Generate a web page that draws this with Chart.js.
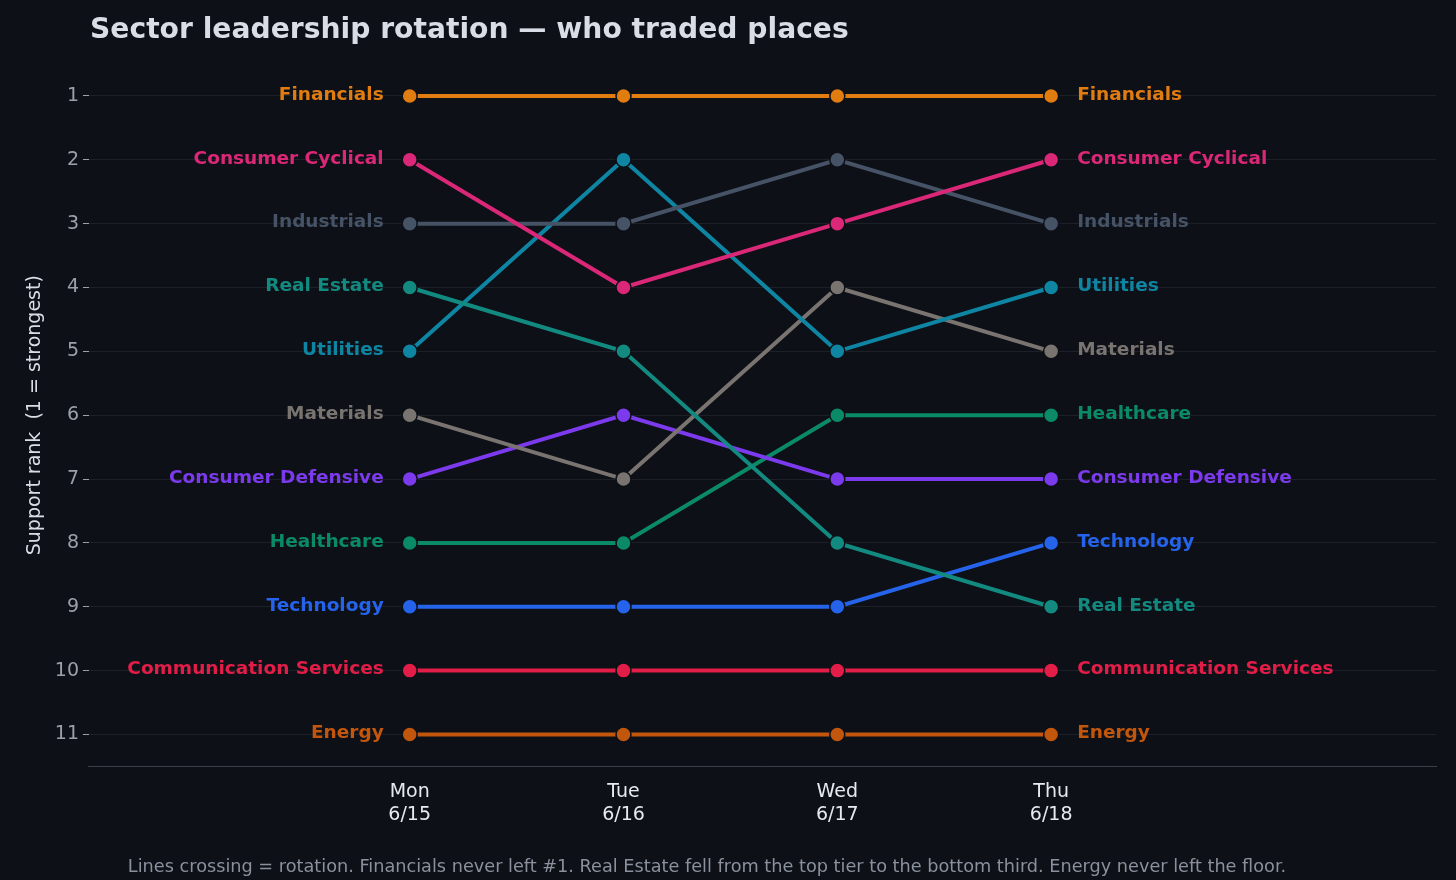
<!DOCTYPE html>
<html>
<head>
<meta charset="utf-8">
<script src="https://cdn.jsdelivr.net/npm/chart.js@4/dist/chart.umd.min.js"></script>
<style>
  html, body { margin: 0; padding: 0; background: #0d1017; }
  #wrap { position: relative; width: 1456px; height: 880px; }
  h1 { position: absolute; left: 90px; top: 12px; margin: 0; font: bold 28.2px "DejaVu Sans", sans-serif; color: #d8dde6; }
  #note { position: absolute; left: 0; width: 1414px; top: 856px; text-align: center; font: 17.7px "DejaVu Sans", sans-serif; color: #8a919c; }
</style>
</head>
<body>
<div id="wrap">
  <h1>Sector leadership rotation — who traded places</h1>
  <canvas id="c" width="1456" height="880"></canvas>
  <div id="note">Lines crossing = rotation. Financials never left #1. Real Estate fell from the top tier to the bottom third. Energy never left the floor.</div>
</div>
<script>
// --- Data ---
const days = [['Mon', '6/15'], ['Tue', '6/16'], ['Wed', '6/17'], ['Thu', '6/18']];
const sectors = ['Financials', 'Consumer Cyclical', 'Industrials', 'Real Estate', 'Utilities', 'Materials',
  'Consumer Defensive', 'Healthcare', 'Technology', 'Communication Services', 'Energy'];
const ranks = {
  'Financials':             [1, 1, 1, 1],
  'Consumer Cyclical':      [2, 4, 3, 2],
  'Industrials':            [3, 3, 2, 3],
  'Real Estate':            [4, 5, 8, 9],
  'Utilities':              [5, 2, 5, 4],
  'Materials':              [6, 7, 4, 5],
  'Consumer Defensive':     [7, 6, 7, 7],
  'Healthcare':             [8, 8, 6, 6],
  'Technology':             [9, 9, 9, 8],
  'Communication Services': [10, 10, 10, 10],
  'Energy':                 [11, 11, 11, 11],
};
const colors = {
  'Financials': '#e07c10', 'Consumer Cyclical': '#db2777', 'Industrials': '#465366',
  'Real Estate': '#138a80', 'Utilities': '#0e86a3', 'Materials': '#7a7470',
  'Consumer Defensive': '#7c3aed', 'Healthcare': '#0b8a66', 'Technology': '#2563eb',
  'Communication Services': '#e11d48', 'Energy': '#c2560c',
};
const rankTicks = [1, 2, 3, 4, 5, 6, 7, 8, 9, 10, 11];

const datasets = sectors.map(s => ({
  label: s,
  data: ranks[s].map((r, i) => ({ x: i, y: r })),
  borderColor: colors[s],
  backgroundColor: colors[s],
  borderWidth: 4,
  pointRadius: 7.5,
  pointBorderColor: '#0d1017',
  pointBorderWidth: 1.5,
  tension: 0,
}));

// endpoint labels
const endLabels = {
  id: 'endLabels',
  afterDatasetsDraw(chart) {
    const { ctx, scales: { x, y } } = chart;
    ctx.save();
    ctx.font = 'bold 18.5px "DejaVu Sans", sans-serif';
    ctx.textBaseline = 'middle';
    sectors.forEach(s => {
      const r = ranks[s];
      ctx.fillStyle = colors[s];
      ctx.textAlign = 'right';
      ctx.fillText(s, x.getPixelForValue(0) - 26, y.getPixelForValue(r[0]) - 1);
      ctx.textAlign = 'left';
      ctx.fillText(s, x.getPixelForValue(3) + 26, y.getPixelForValue(r[3]) - 1);
    });
    ctx.restore();
  },
};

new Chart(document.getElementById('c'), {
  type: 'line',
  data: { datasets },
  plugins: [endLabels],
  options: {
    responsive: false,
    animation: false,
    layout: { padding: { top: 64, right: 20, bottom: 48, left: 20 } },
    plugins: { legend: { display: false }, tooltip: { enabled: false } },
    scales: {
      x: {
        type: 'linear', min: -1.5, max: 4.8,
        afterBuildTicks: a => { a.ticks = days.map((_, i) => ({ value: i })); },
        ticks: { color: '#e6e9ee', font: { size: 19, family: 'DejaVu Sans' }, padding: 6,
          callback: v => days[v] },
        grid: { display: false, drawTicks: true },
        border: { color: '#3a3f48' },
      },
      y: {
        reverse: true, min: 0.5, max: 11.5,
        afterBuildTicks: a => { a.ticks = rankTicks.map(v => ({ value: v })); },
        ticks: { color: '#9aa1ab', font: { size: 19, family: 'DejaVu Sans' }, padding: 4 },
        grid: { color: 'rgba(255,255,255,0.07)', tickColor: '#9aa1ab', tickLength: 6 },
        border: { display: false },
        title: { display: true, text: 'Support rank  (1 = strongest)', color: '#d8dde6',
          font: { size: 19, family: 'DejaVu Sans' } },
      },
    },
  },
});
</script>
</body>
</html>
